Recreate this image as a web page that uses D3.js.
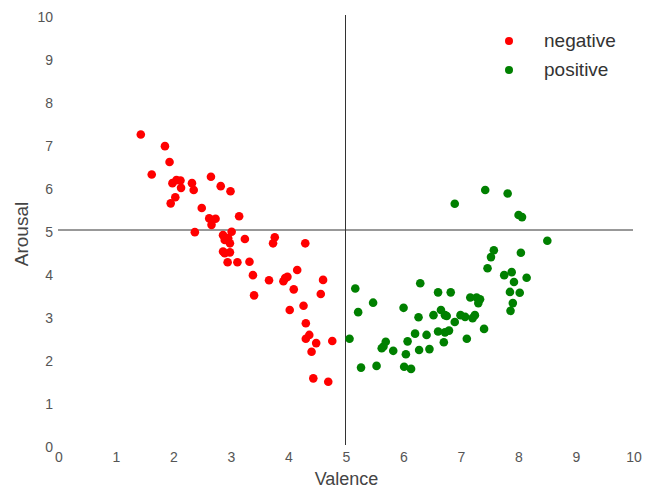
<!DOCTYPE html>
<html><head><meta charset="utf-8">
<script src="https://cdn.jsdelivr.net/npm/d3@7"></script>
<style>body{margin:0;background:#fff;} text{font-family:"Liberation Sans",Arial,sans-serif;}</style>
</head><body>
<svg id="chart" width="645" height="489"></svg>
<script>
const xTicks = [0,1,2,3,4,5,6,7,8,9,10];
const yTicks = [0,1,2,3,4,5,6,7,8,9,10];
const seriesNames = ["negative","positive"];
const seriesColors = ["#ff0000","#008000"];
const negValence = [1.44,1.86,1.94,1.63,1.99,2.06,2.13,2.14,2.04,1.96,2.33,2.36,2.66,2.83,3.00,2.50,2.63,2.74,2.67,3.15,2.38,2.87,3.02,2.96,2.90,2.99,3.25,3.77,3.74,4.30,2.87,2.99,2.90,2.95,3.12,3.33,3.39,3.67,3.95,3.92,3.99,4.16,4.61,4.10,3.41,4.57,4.03,4.27,4.31,4.37,4.31,4.49,4.77,4.41,4.44,4.70];
const negArousal = [7.22,6.95,6.58,6.29,6.09,6.16,6.15,5.98,5.76,5.62,6.09,5.93,6.24,6.02,5.90,5.51,5.27,5.26,5.12,5.32,4.95,4.88,4.96,4.81,4.77,4.69,4.79,4.83,4.69,4.69,4.50,4.48,4.46,4.25,4.25,4.26,3.95,3.83,3.88,3.81,3.91,4.07,3.84,3.62,3.48,3.51,3.14,3.24,2.83,2.56,2.47,2.37,2.42,2.17,1.55,1.47];
const posValence = [5.07,5.17,5.22,5.48,5.27,5.54,5.70,5.66,5.63,5.83,6.01,6.08,6.05,6.02,6.14,6.21,6.27,6.30,6.28,6.41,6.46,6.53,6.61,6.66,6.73,6.76,6.61,6.73,6.80,6.71,6.83,6.90,6.90,7.00,7.08,7.11,7.21,7.25,7.17,7.28,7.31,7.34,7.41,7.43,7.47,7.53,7.58,7.76,7.82,7.89,7.93,7.86,7.91,7.87,8.01,8.07,8.05,8.03,8.15,8.51];
const posArousal = [2.47,3.64,3.09,3.31,1.80,1.84,2.40,2.29,2.25,2.19,3.19,2.41,2.11,1.82,1.77,2.59,2.97,3.76,2.21,2.56,2.23,3.02,3.55,3.14,3.02,3.00,2.64,2.62,2.66,2.39,3.55,2.86,5.61,3.02,2.98,2.47,2.95,3.02,3.43,3.43,3.30,3.39,2.70,5.93,4.11,4.37,4.53,3.95,5.85,4.02,3.79,3.56,3.30,3.12,5.35,5.30,4.47,3.54,3.89,4.75];

const svg = d3.select("#chart");
const x = d3.scaleLinear().domain([0,10]).range([58,633]);
const y = d3.scaleLinear().domain([0,10]).range([445,15]);
const tickColor = "#555";

// x tick labels
svg.append("g").selectAll("text").data(xTicks).join("text")
  .attr("x", d => x(d) + 1).attr("y", 461.5)
  .attr("text-anchor","middle").attr("font-size",14).attr("fill",tickColor)
  .text(d => d);
// y tick labels
svg.append("g").selectAll("text").data(yTicks).join("text")
  .attr("x", 53).attr("y", d => y(d) + 6.5)
  .attr("text-anchor","end").attr("font-size",14).attr("fill",tickColor)
  .text(d => d);

// cross lines
svg.append("line").attr("x1", x(0)).attr("x2", x(10)).attr("y1", y(5)).attr("y2", y(5))
  .attr("stroke","#333").attr("stroke-width",1);
svg.append("line").attr("x1", x(5)).attr("x2", x(5)).attr("y1", y(10)).attr("y2", y(0))
  .attr("stroke","#333").attr("stroke-width",1);

// points
const neg = negValence.map((v,i) => ({v, a: negArousal[i]}));
const pos = posValence.map((v,i) => ({v, a: posArousal[i]}));
[neg, pos].forEach((data, k) => {
  svg.append("g").selectAll("circle").data(data).join("circle")
    .attr("cx", d => x(d.v)).attr("cy", d => y(d.a)).attr("r", 4.3)
    .attr("fill", seriesColors[k]);
});

// axis titles
svg.append("text").attr("x", 346.5).attr("y", 485).attr("text-anchor","middle")
  .attr("font-size",18).attr("fill","#444").text("Valence");
svg.append("text").attr("transform","translate(28,234) rotate(-90)").attr("text-anchor","middle")
  .attr("font-size",19).attr("fill","#444").text("Arousal");

// legend
const lg = svg.append("g");
seriesNames.forEach((name, i) => {
  lg.append("circle").attr("cx", 509).attr("cy", 41 + i*29).attr("r", 4).attr("fill", seriesColors[i]);
  lg.append("text").attr("x", 544).attr("y", 46.5 + i*29).attr("font-size",19).attr("fill","#333").text(name);
});
</script>
</body></html>
